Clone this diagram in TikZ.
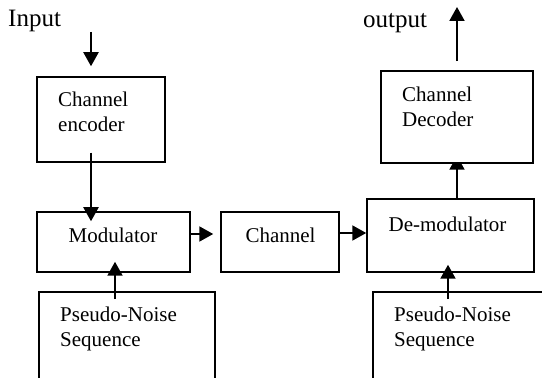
\documentclass[tikz,border=0pt]{standalone}
\usepackage{fontspec}
\setmainfont{Liberation Serif}
\usetikzlibrary{shapes,arrows,arrows.meta,positioning,calc,backgrounds}

\begin{document}
\begin{tikzpicture}[x=1pt,y=1pt,
    blk/.style={draw=black, line width=1.5pt, inner sep=0pt},
    arr/.style={-{Triangle[length=14pt,width=15pt]}, line width=2pt},
    lbl/.style={inner sep=0pt, align=left, font=\fontsize{21}{25}\selectfont},
    io/.style={inner sep=0pt, font=\fontsize{25}{30}\selectfont}]
            \useasboundingbox (0,0) rectangle (542,378);
            \clip (0,0) rectangle (542,378);

            % blocks
            \node[blk, minimum width=128, minimum height=85] (enc) at (101,258.5) {};
            \node[blk, minimum width=153, minimum height=60] (mod) at (113.5,136) {};
            \node[blk, minimum width=118, minimum height=60] (chan) at (280,136) {};
            \node[blk, minimum width=167, minimum height=73] (demod) at (450.5,142.5) {};
            \node[blk, fill=white, minimum width=152, minimum height=92] (dec) at (457,261) {};
            \node[blk, minimum width=176, minimum height=126] (pn1) at (127,23) {};
            \node[blk, minimum width=277, minimum height=126] (pn2) at (511.5,23) {};

            % texts (base = last line)
            \node[io, anchor=base west] (intxt) at (8,351) {Input};
            \node[io, anchor=base west] (outtxt) at (363,350) {output};
            \node[lbl, anchor=base west] (enctxt) at (58,246) {Channel\\encoder};
            \node[lbl, anchor=base west] (dectxt) at (402,251) {Channel\\Decoder};
            \node[lbl, anchor=base] (modtxt) at (113,135) {Modulator};
            \node[lbl, anchor=base] (chantxt) at (280.5,135) {Channel};
            \node[lbl, anchor=base] (demodtxt) at (447.5,146) {De-modulator};
            \node[lbl, anchor=base west] (pn1txt) at (60,31) {Pseudo-Noise\\Sequence};
            \node[lbl, anchor=base west] (pn2txt) at (394,31) {Pseudo-Noise\\Sequence};

            % arrows
            \coordinate (in) at (91,346);
            \coordinate (out) at (457,371);
            \draw[arr, shorten >=10pt] (in) -- (in |- enc.north);
            \draw[arr] ($(in |- enc.south)+(0,10)$) -- ($(in |- mod.north)+(0,-10)$);
            \draw[arr, shorten >=7pt] ([yshift=8pt]mod.east) -- ([yshift=8pt]chan.west);
            \draw[arr] ([yshift=9pt]chan.east) -- ([yshift=9pt]chan.east -| demod.west);
            \draw[arr] ($(mod.south |- pn1.north)+(1.5,-8)$) -- ($(mod.south)+(1.5,11)$);
            \draw[arr] ($(demod.south |- pn2.north)+(-2.5,-8)$) -- ($(demod.south)+(-2.5,8)$);
            \begin{pgfonlayer}{background}
            \draw[arr] (dec.south |- demod.north) -- ($(dec.south)+(0,8)$);
            \end{pgfonlayer}
            \draw[arr] ($(dec.north)+(0,9)$) -- (out);
        \end{tikzpicture}
\end{document}
